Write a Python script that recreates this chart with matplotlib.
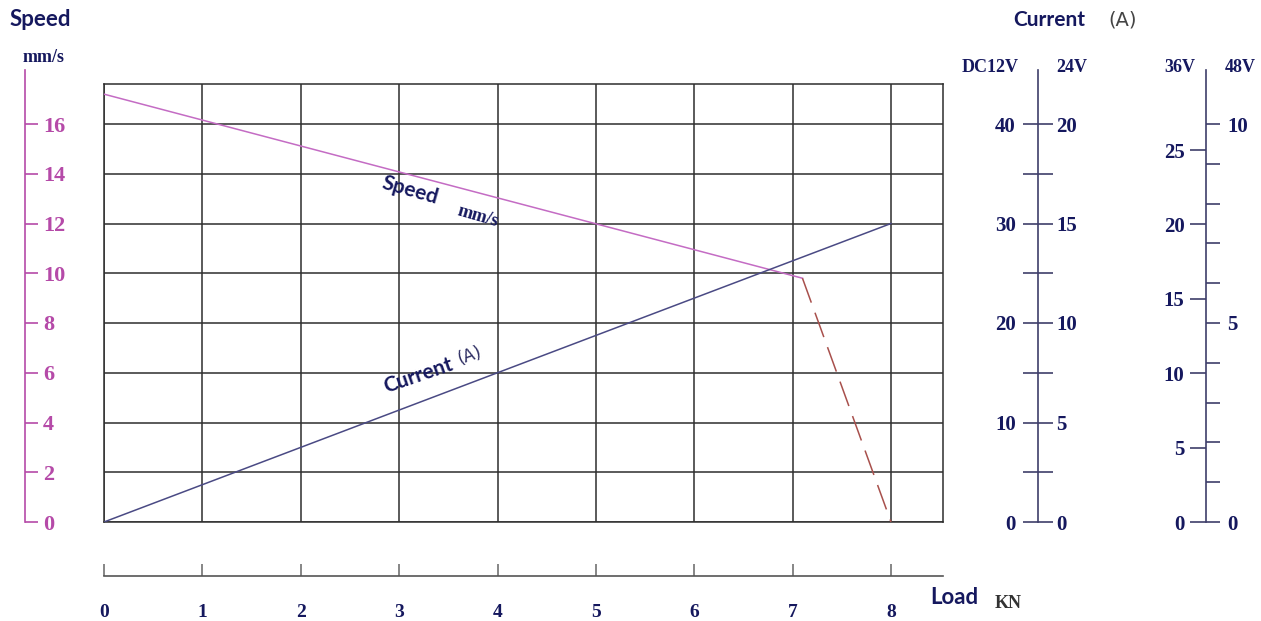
import matplotlib
matplotlib.use("Agg")
import matplotlib.pyplot as plt
import numpy as np

# data
load_ticks = list(range(0, 9))
speed_ticks = list(range(0, 17, 2))
speed_load = [0, 7.1]
speed_vals = [17.2, 9.8]
speed_drop_load = [7.1, 8.0]
speed_drop_vals = [9.8, 0.0]
current_load = [0, 8]
current_vals_12v = [0, 30]          # A at DC12V
ticks_12v = [0, 10, 20, 30, 40]
ticks_24v = [0, 5, 10, 15, 20]
ticks_36v = [0, 5, 10, 15, 20, 25]
ticks_48v = list(range(0, 11))
labels_48v = ["0", "", "", "", "", "5", "", "", "", "", "10"]

W, H = 1261, 621
NAVY = "#15185e"
MAG = "#b54aa8"
GRID = "#2e2e2e"
AXC = "#3e3e6a"
DIGIT = dict(family="Liberation Serif", fontweight="bold")
TITLE = dict(family="Lato", fontweight="bold", color=NAVY)


def fx(px):
    return px / W


def fy(py):
    return 1 - py / H


fig = plt.figure(figsize=(W / 100, H / 100), dpi=100)

# main grid, y in speed units
px_x = 98.375   # px per kN
px_s = 24.875   # px per mm/s
ax = fig.add_axes([fx(104), fy(522), fx(943) - fx(104), fy(84) - fy(522)])
ax.set_xlim(0, (943 - 104) / px_x)
ax.set_ylim(0, (522 - 84) / px_s)
ax.set_xticks(load_ticks)
ax.set_yticks(speed_ticks)
ax.tick_params(length=0, labelbottom=False, labelleft=False)
ax.grid(True, color=GRID, linewidth=1.1)
for s in ax.spines.values():
    s.set_color(GRID)
    s.set_linewidth(1.1)

ax.plot(speed_load, speed_vals, color="#c46cc4", linewidth=1.1, zorder=3)
ax.plot(speed_drop_load, speed_drop_vals, color="#a8504c", linewidth=1.1,
        dashes=(17, 7), zorder=3)

axc = ax.twinx()
axc.set_ylim(0, ax.get_ylim()[1] * 2.5)
axc.plot(current_load, current_vals_12v, color="#4a4a84", linewidth=1.1)
axc.axis("off")

# inline labels
ax.text(3.11, 13.35, "Speed", rotation=-16, ha="center", va="center",
        fontsize=15, **TITLE)
ax.text(3.8, 12.3, "mm/s", rotation=-16, ha="center", va="center",
        fontsize=13, color=NAVY, **DIGIT)
ax.text(3.2, 5.9, "Current", rotation=19, ha="center", va="center",
        fontsize=15, **TITLE)
ax.text(3.72, 6.7, "(A)", rotation=19, ha="center", va="center",
        fontsize=12, color="#2a2a60", family="DejaVu Sans")

# left speed axis
axs = fig.add_axes([fx(25), fy(522), 0.0001, fy(70) - fy(522)])
axs.set_ylim(0, (522 - 70) / px_s)
axs.set_yticks(speed_ticks)
axs.set_yticklabels([str(v) for v in speed_ticks])
axs.yaxis.tick_right()
axs.set_xticks([])
for k in ["left", "top", "bottom"]:
    axs.spines[k].set_visible(False)
axs.spines["right"].set_color(MAG)
axs.spines["right"].set_linewidth(1.2)
axs.tick_params(axis="y", direction="out", length=9, width=1.2, color=MAG,
                labelcolor=MAG, labelsize=16, pad=4)
for t in axs.get_yticklabels():
    t.set_fontfamily("Liberation Serif")
    t.set_fontweight("bold")
axs.patch.set_visible(False)

fig.text(fx(10), fy(20), "Speed", ha="left", va="center", fontsize=16, **TITLE)
fig.text(fx(23), fy(58), "mm/s", ha="left", va="center", fontsize=13,
         color=NAVY, **DIGIT)

# x axis below grid
axb = fig.add_axes([fx(104), fy(576), fx(943) - fx(104), 0.0001])
axb.set_xlim(ax.get_xlim())
axb.set_xticks(load_ticks)
axb.set_xticklabels([str(v) for v in load_ticks])
axb.set_yticks([])
for k in ["left", "top", "right"]:
    axb.spines[k].set_visible(False)
axb.spines["bottom"].set_color("#555555")
axb.spines["bottom"].set_linewidth(1.2)
axb.tick_params(axis="x", direction="in", length=9, width=1.1, color="#666666",
                labelcolor=NAVY, labelsize=14, pad=20)
for t in axb.get_xticklabels():
    t.set_fontfamily("Liberation Serif")
    t.set_fontweight("bold")
axb.patch.set_visible(False)

fig.text(fx(930), fy(598), "Load", ha="left", va="center", fontsize=16, **TITLE)
fig.text(fx(995), fy(603), "KN", ha="left", va="center", fontsize=13,
         color="#333333", **DIGIT)

# current axes on the right
fig.text(fx(1013), fy(20), "Current", ha="left", va="center", fontsize=15, **TITLE)
fig.text(fx(1108), fy(20), "(A)", ha="left", va="center", fontsize=14,
         color="#444444", family="DejaVu Sans")


def side_axis(xpx, ymax):
    a = fig.add_axes([fx(xpx), fy(522), 0.0001, fy(70) - fy(522)])
    a.set_ylim(0, ymax)
    a.set_xticks([])
    for k in ["right", "top", "bottom"]:
        a.spines[k].set_visible(False)
    a.spines["left"].set_color(AXC)
    a.spines["left"].set_linewidth(1.2)
    a.patch.set_visible(False)
    return a


def style_labels(a):
    for t in a.get_yticklabels():
        t.set_fontfamily("Liberation Serif")
        t.set_fontweight("bold")


# DC12V / 24V
a1 = side_axis(1038, (522 - 70) / 9.95)
a1.set_yticks(ticks_12v)
a1.set_yticklabels([str(v) for v in ticks_12v])
a1.set_yticks([5, 15, 25, 35], minor=True)
a1.tick_params(axis="y", which="both", direction="inout", length=22, width=1.2,
               color=AXC, labelcolor=NAVY, labelsize=15, pad=5)
style_labels(a1)
a1r = a1.twinx()
a1r.set_ylim(0, a1.get_ylim()[1] / 2)
a1r.set_yticks(ticks_24v)
a1r.set_yticklabels([str(v) for v in ticks_24v])
a1r.tick_params(axis="y", length=0, labelcolor=NAVY, labelsize=15, pad=13)
style_labels(a1r)
for s in a1r.spines.values():
    s.set_visible(False)

# 36V / 48V
a2 = side_axis(1206, (522 - 70) / 14.88)
a2.set_yticks(ticks_36v)
a2.set_yticklabels([str(v) for v in ticks_36v])
a2.tick_params(axis="y", direction="out", length=11.5, width=1.2, color=AXC,
               labelcolor=NAVY, labelsize=15, pad=4)
style_labels(a2)
a2r = a2.twinx()
a2r.set_ylim(0, (522 - 70) / 39.8)
a2r.set_yticks(ticks_48v)
a2r.set_yticklabels(labels_48v)
a2r.tick_params(axis="y", direction="out", length=10, width=1.2, color=AXC,
                labelcolor=NAVY, labelsize=15, pad=5)
style_labels(a2r)
for s in a2r.spines.values():
    s.set_visible(False)

for x, s in [(990, "DC12V"), (1072, "24V"), (1180, "36V"), (1240, "48V")]:
    fig.text(fx(x), fy(68), s, ha="center", va="center", fontsize=13,
             color=NAVY, **DIGIT)

fig.savefig("out.png", dpi=100)
